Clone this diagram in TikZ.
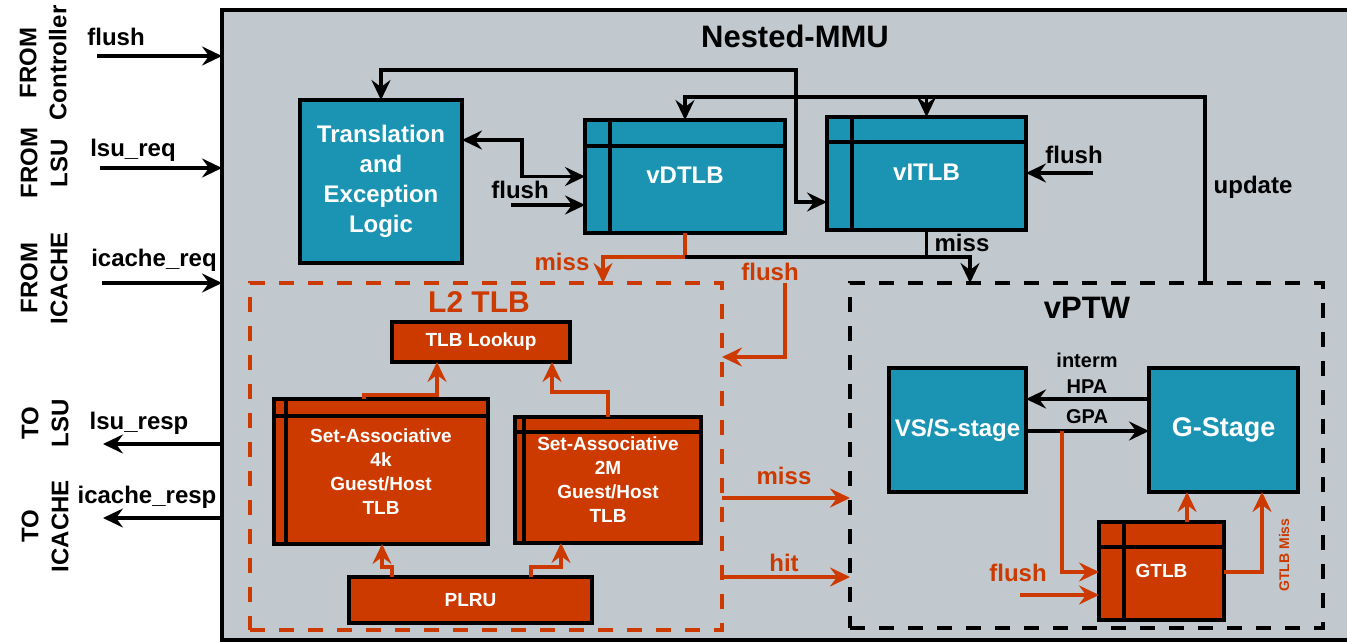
\documentclass[tikz,border=0pt]{standalone}
\usepackage{fontspec}
\setmainfont{Liberation Sans}
\usetikzlibrary{arrows.meta,calc}
\definecolor{panel}{RGB}{193,200,206}
\definecolor{tealbox}{RGB}{26,148,178}
\definecolor{rust}{RGB}{205,58,0}
\newcommand\setfs[2]{\fontsize{#1}{#2}\selectfont\bfseries}

\tikzset{
  >={Stealth[length=20pt,width=19pt,inset=7pt]},
  link/.style={line width=3.4pt,->},
  olink/.style={line width=3.2pt,rust,->},
  wire/.style={line width=3.4pt},
  owire/.style={line width=3.2pt,rust},
  tbox/.style={draw,line width=4pt,fill=tealbox,text=white,inner sep=0pt,outer sep=0pt,align=center},
  obox/.style={draw,line width=4pt,fill=rust,text=white,inner sep=0pt,outer sep=0pt,align=center},
  cells/.style 2 args={path picture={
      \draw[line width=4pt] ([xshift=#1]path picture bounding box.north west) -- ([xshift=#1]path picture bounding box.south west);
      \draw[line width=4pt] ([yshift=-#2]path picture bounding box.north west) -- ([yshift=-#2]path picture bounding box.north east);}},
  lbl/.style={inner sep=0pt,font=\setfs{24}{30}},
  olbl/.style={inner sep=0pt,font=\setfs{24}{30},text=rust},
  side/.style={inner sep=0pt,rotate=90,align=center,font=\setfs{24}{30}},
  frame/.style={inner sep=0pt,outer sep=0pt},
}

\begin{document}
\begin{tikzpicture}[x=1pt,y=-1pt]
\useasboundingbox (0,0) rectangle (1347,642);
\fill[white] (0,0) rectangle (1347,642);

% outer Nested-MMU block (runs past the right edge)
\node[frame,fill=panel,minimum width=1148,minimum height=630] (mmu) at (796,325) {};
\draw[line width=4pt] (mmu.north east) -- (mmu.north west) -- (mmu.south west) -- (mmu.south east);
\node[inner sep=0pt,font=\setfs{31}{36}] (title) at (795,36) {Nested-MMU};

% interface labels on the left
\node[side] (fromctl) at (43,63) {FROM\\Controller};
\node[side] (fromlsu) at (44,163) {FROM\\LSU};
\node[side] (fromic) at (44,278) {FROM\\ICACHE};
\node[side] (tolsu) at (45,423) {TO\\LSU};
\node[side] (toic) at (45,526) {TO\\ICACHE};

\node[lbl] (lflush) at (116,37) {flush};
\node[lbl] (llsureq) at (133,150) {lsu\_req};
\node[lbl] (licreq) at (154,260) {icache\_req};
\node[lbl] (llsuresp) at (139,423) {lsu\_resp};
\node[lbl] (licresp) at (147,497) {icache\_resp};

\coordinate (inflush) at (97,56);
\coordinate (inlsu) at (100,168);
\coordinate (inic) at (102,283);
\coordinate (outlsu) at (103,444);
\coordinate (outic) at (103,518);

% dashed sub-blocks
\node[frame,draw=rust,line width=4pt,dash pattern=on 15pt off 14pt,minimum width=472,minimum height=347] (l2) at (486,456.5) {};
\node[frame,draw=black,line width=4pt,dash pattern=on 15pt off 14pt,minimum width=473,minimum height=345] (vptw) at (1086.5,455.5) {};
\node[inner sep=0pt,font=\setfs{30}{34},text=rust] (l2title) at (479,302) {L2 TLB};
\node[inner sep=0pt,font=\setfs{31}{36}] (vptwtitle) at (1087,308) {vPTW};

% first-level blocks
\node[tbox,minimum width=162,minimum height=163,font=\setfs{24}{30}] (trans) at (381,181.5) {Translation\\and\\Exception\\Logic};
\node[tbox,cells={25}{26},minimum width=200,minimum height=113,font=\setfs{24}{28}] (vdtlb) at (685,176.5) {\raisebox{3pt}{vDTLB}};
\node[tbox,cells={25}{25},minimum width=199,minimum height=113,font=\setfs{24}{28}] (vitlb) at (926.5,173.5) {\raisebox{3pt}{vITLB}};

% L2 TLB internals
\node[obox,minimum width=178,minimum height=40,font=\setfs{19}{23}] (lookup) at (481,342) {TLB Lookup};
\node[obox,cells={12}{17},minimum width=214,minimum height=145,font=\setfs{19}{24}] (sa4k) at (381,471.5) {Set-Associative\\4k\\Guest/Host\\TLB};
\node[obox,cells={9}{15},minimum width=186,minimum height=126,font=\setfs{19}{24}] (sa2m) at (608,480) {Set-Associative\\2M\\Guest/Host\\TLB};
\node[obox,minimum width=243,minimum height=46,font=\setfs{19}{23}] (plru) at (470.5,600) {PLRU};

% vPTW internals
\node[tbox,minimum width=137,minimum height=124,font=\setfs{24}{28}] (vs) at (957.5,430) {VS/S-stage};
\node[tbox,minimum width=149,minimum height=124,font=\setfs{27}{30}] (gst) at (1223.5,430) {G-Stage};
\node[obox,cells={25}{25},minimum width=125,minimum height=98,font=\setfs{19}{23}] (gtlb) at (1161.5,571) {GTLB};

% external ports
\draw[link] (inflush) -- (inflush -| mmu.west);
\draw[link] (inlsu) -- (inlsu -| mmu.west);
\draw[link] (inic) -- (inic -| mmu.west);
\draw[link] (outlsu -| mmu.west) -- (outlsu);
\draw[link] (outic -| mmu.west) -- (outic);

% translation logic <-> vDTLB
\draw[link,<->] ([yshift=41.5]trans.east) -- ++(60,0) |- (vdtlb.west);
\coordinate (vdflush) at (511,205);
\draw[link] (vdflush) -- (vdflush -| vdtlb.west);
\node[lbl] (lvdflush) at (520,190) {flush};

% translation logic <-> vITLB
\coordinate (loop) at (796,70);
\draw[link,<->] (trans.north) |- (loop) |- ([yshift=-28.5]vitlb.west);

% update path from the walker
\coordinate (upd) at (1205,97);
\draw[link] (vptw.north -| upd) -- (upd) -| (vdtlb.north);
\draw[link] (vitlb.north |- upd) -- (vitlb.north);
\node[lbl] (lupd) at (1253,187) {update};

\coordinate (viflush) at (1093,173);
\draw[link] (viflush) -- (viflush -| vitlb.east);
\node[lbl] (lviflush) at (1074,155) {flush};

% misses from the first-level TLBs
\coordinate (missj) at (685,257);
\draw[owire] (vdtlb.south) -- (missj);
\draw[olink] (missj) -| ([xshift=117]l2.north);
\draw[link] (missj) -| ([xshift=-116.5]vptw.north);
\draw[wire] (vitlb.south) -- (vitlb.south |- missj);
\node[olbl] (lmissd) at (562,262) {miss};
\node[lbl] (lmissi) at (962,243) {miss};

\coordinate (l2flush) at (785,283);
\draw[olink] (l2flush) |- ([yshift=99.5]l2.east);
\node[olbl] (ll2flush) at (770,272) {flush};

% L2 TLB datapath
\draw[olink] ([xshift=-17]sa4k.north) -- ++(0,-4) -| ([xshift=-44]lookup.south);
\draw[olink] (sa2m.north) -- ++(0,-25) -| ([xshift=71]lookup.south);
\draw[olink] ([xshift=-78.5]plru.north) -- ++(0,-10) -| ([xshift=1]sa4k.south);
\draw[olink] ([xshift=60.5]plru.north) -- ++(0,-10) -| ([xshift=-47]sa2m.south);

% L2 TLB -> walker
\draw[olink] ([yshift=-41.5]l2.east) -- ([yshift=-41.5]l2.east -| vptw.west);
\draw[olink] ([yshift=-120.5]l2.east) -- ([yshift=-120.5]l2.east -| vptw.west);
\node[olbl] (lmissl2) at (784,476) {miss};
\node[olbl] (lhit) at (784,563) {hit};

% walker internals
\draw[link] ([yshift=31]gst.west) -- ([yshift=31]gst.west -| vs.east);
\draw[link] ([yshift=-1]vs.east) -- ([yshift=-1]vs.east -| gst.west);
\node[inner sep=0pt,font=\setfs{20}{24}] (linterm) at (1087,360) {interm};
\node[inner sep=0pt,font=\setfs{20}{24}] (lhpa) at (1087,387) {HPA};
\node[inner sep=0pt,font=\setfs{20}{24}] (lgpa) at (1087,417) {GPA};

\coordinate (gpaj) at (1062,431);
\draw[olink] (gpaj) |- ([yshift=-1]gtlb.west);
\coordinate (gflush) at (1020,595);
\draw[olink] (gflush) -- (gflush -| gtlb.west);
\node[olbl] (lgflush) at (1018,573) {flush};
\draw[olink] ([xshift=25.5]gtlb.north) -- ([xshift=25.5]gtlb.north |- gst.south);
\draw[olink] ([yshift=-1]gtlb.east) -| ([xshift=38.5]gst.south);
\node[inner sep=0pt,rotate=90,font=\setfs{14}{16},text=rust] (lgmiss) at (1284,555) {GTLB Miss};
\end{tikzpicture}
\end{document}
